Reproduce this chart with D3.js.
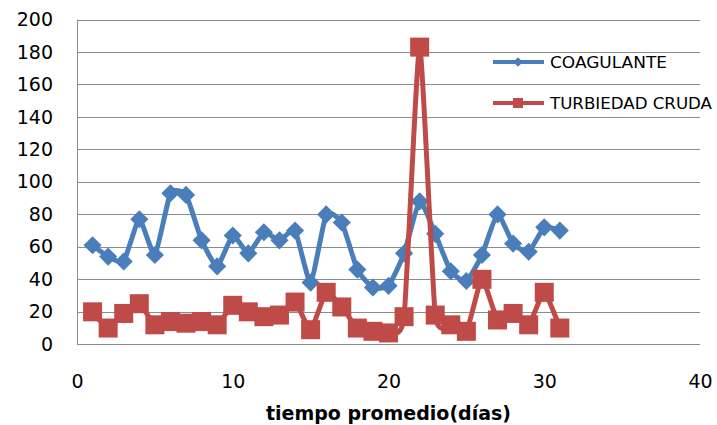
<!DOCTYPE html>
<html>
<head>
<meta charset="utf-8">
<script src="https://cdn.jsdelivr.net/npm/d3@7"></script>
<style>
  body { margin: 0; background: #fff; }
  text { font-family: "DejaVu Sans", sans-serif; fill: #000; }
</style>
</head>
<body>
<div id="chart"></div>
<script>
const days = d3.range(1, 32)
const coagulante = [61, 54, 51, 77, 55, 93, 92, 64, 48, 67, 56, 69, 64, 70, 38, 80, 75, 46, 35, 36, 56, 88, 68, 45, 39, 55, 80, 62, 57, 72, 70]
const turbiedad = [20, 10, 19, 25, 12, 14, 13, 14, 12, 24, 20, 17, 18, 26, 9, 32, 23, 10, 8, 7, 17, 183, 18, 12, 8, 40, 15, 19, 12, 32, 10]
const xTicks = [0, 10, 20, 30, 40]
const yTicks = d3.range(0, 201, 20)
const seriesNames = ['COAGULANTE', 'TURBIEDAD CRUDA']

const w = 717
const h = 425
const plotLeft = 77, plotRight = 700, plotTop = 19.5, plotBottom = 344.3

const xScale = d3.scaleLinear().domain([0, 40]).range([plotLeft, plotRight])
const yScale = d3.scaleLinear().domain([0, 200]).range([plotBottom, plotTop])

const svg = d3.select('#chart')
  .append('svg')
  .attr('width', w)
  .attr('height', h)

// gridlines
svg.append('g')
  .selectAll('line')
  .data(yTicks)
  .enter()
  .append('line')
  .attr('x1', plotLeft)
  .attr('x2', plotRight)
  .attr('y1', d => Math.round(yScale(d)) + 0.5)
  .attr('y2', d => Math.round(yScale(d)) + 0.5)
  .attr('stroke', '#8c8c8c')
  .attr('stroke-width', 1)

svg.append('line')
  .attr('x1', plotLeft + 0.5).attr('x2', plotLeft + 0.5)
  .attr('y1', plotTop).attr('y2', plotBottom)
  .attr('stroke', '#8c8c8c')

// y axis labels
const yAxis = d3.axisLeft(yScale).tickValues(yTicks).tickSize(0).tickPadding(24)
svg.append('g')
  .attr('transform', 'translate(' + plotLeft + ',0)')
  .call(yAxis)
  .call(g => g.select('.domain').remove())
  .selectAll('text')
  .style('font-size', '19px')
  .attr('font-family', null)

// x axis labels
const xAxis = d3.axisBottom(xScale).tickValues(xTicks).tickSize(0).tickPadding(30)
svg.append('g')
  .attr('transform', 'translate(0,' + plotBottom + ')')
  .call(xAxis)
  .call(g => g.select('.domain').remove())
  .selectAll('text')
  .style('font-size', '19px')
  .attr('font-family', null)

svg.append('text')
  .attr('x', (plotLeft + plotRight) / 2)
  .attr('y', 420)
  .attr('text-anchor', 'middle')
  .style('font-size', '19px')
  .style('font-weight', 'bold')
  .text('tiempo promedio(días)')

const line = d3.line()
  .x((d, i) => xScale(days[i]))
  .y(d => yScale(d))
  .curve(d3.curveCardinal.tension(0.5))

const blue = '#4a7ebb'
const red = '#be4b48'

svg.append('path')
  .datum(coagulante)
  .attr('d', line)
  .attr('fill', 'none')
  .attr('stroke', blue)
  .attr('stroke-width', 5)

svg.append('g')
  .selectAll('path')
  .data(coagulante)
  .enter()
  .append('path')
  .attr('d', d3.symbol().type(d3.symbolDiamond2).size(210))
  .attr('transform', (d, i) => 'translate(' + xScale(days[i]) + ',' + yScale(d) + ')')
  .attr('fill', blue)

svg.append('path')
  .datum(turbiedad)
  .attr('d', line)
  .attr('fill', 'none')
  .attr('stroke', red)
  .attr('stroke-width', 5)

svg.append('g')
  .selectAll('rect')
  .data(turbiedad)
  .enter()
  .append('rect')
  .attr('x', (d, i) => xScale(days[i]) - 9.5)
  .attr('y', d => yScale(d) - 9.5)
  .attr('width', 19)
  .attr('height', 19)
  .attr('fill', red)

// legend
const legend = svg.append('g')
const legendY = [62, 103]
const legendColors = [blue, red]
seriesNames.forEach((name, i) => {
  legend.append('line')
    .attr('x1', 493).attr('x2', 544)
    .attr('y1', legendY[i]).attr('y2', legendY[i])
    .attr('stroke', legendColors[i])
    .attr('stroke-width', 4)
  if (i === 0) {
    legend.append('path')
      .attr('d', d3.symbol().type(d3.symbolDiamond2).size(60))
      .attr('transform', 'translate(518,' + legendY[i] + ')')
      .attr('fill', blue)
  } else {
    legend.append('rect')
      .attr('x', 513).attr('y', legendY[i] - 5)
      .attr('width', 10).attr('height', 10)
      .attr('fill', red)
  }
  legend.append('text')
    .attr('x', 550)
    .attr('y', legendY[i] + 6)
    .style('font-size', '16px')
    .attr('textLength', i === 0 ? 117 : 162)
    .attr('lengthAdjust', 'spacingAndGlyphs')
    .text(name)
})
</script>
</body>
</html>
